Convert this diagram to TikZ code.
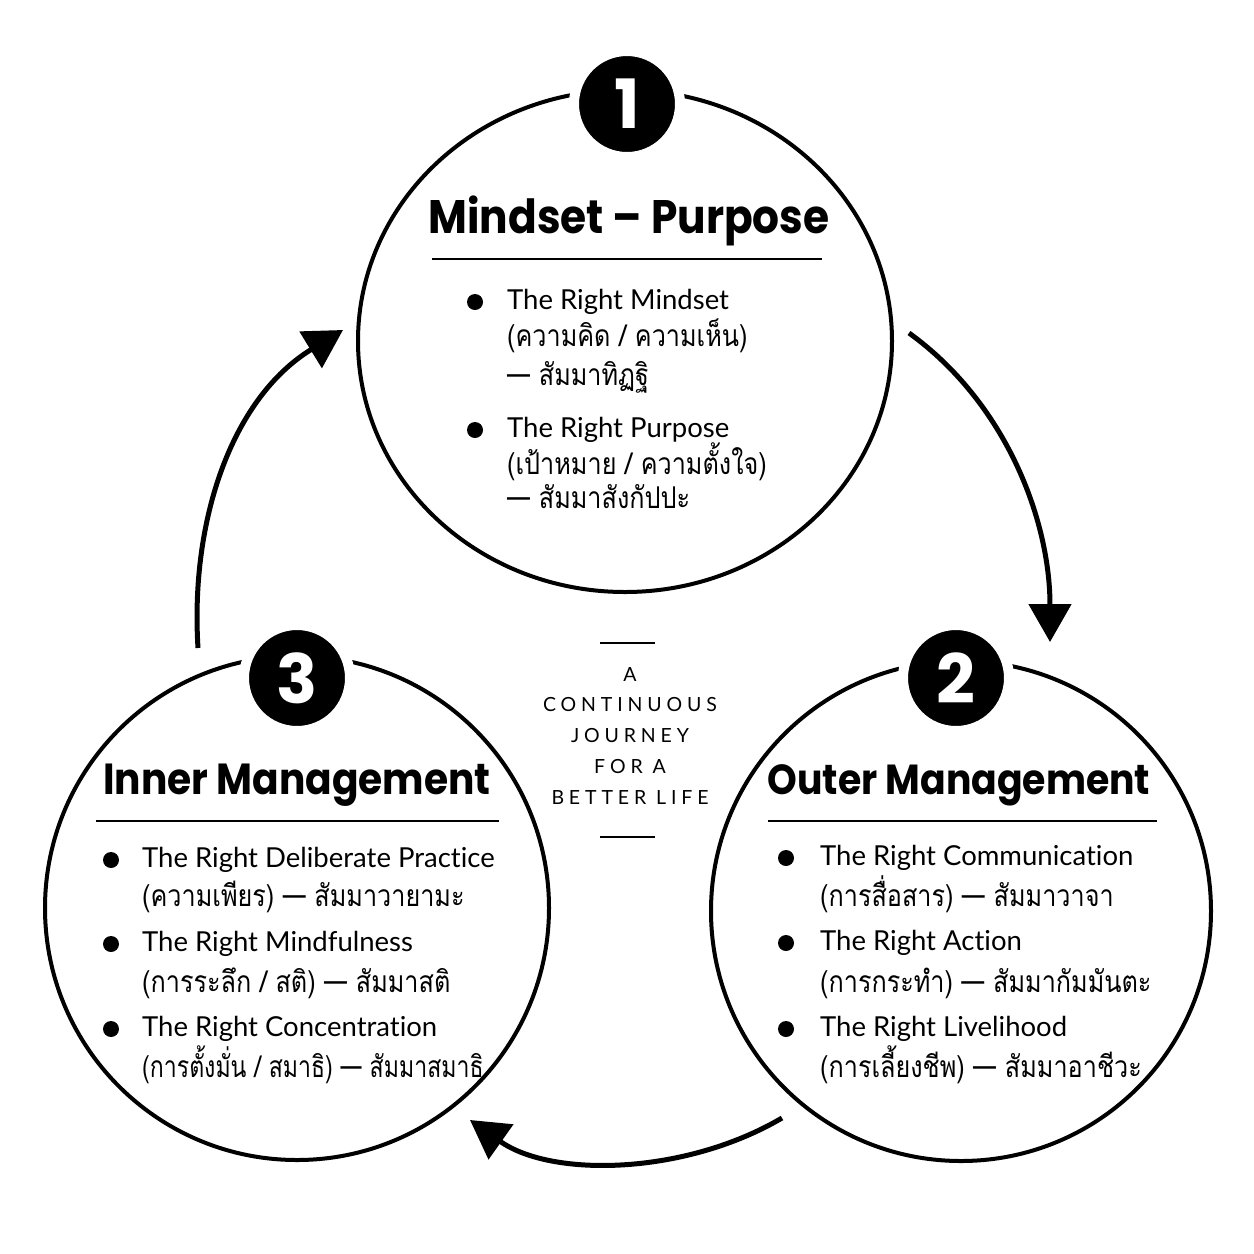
\documentclass[tikz,border=0pt]{standalone}
\usepackage{fontspec}
\usetikzlibrary{arrows.meta,shapes.geometric}
\newfontfamily\titlefont[FakeStretch=0.9]{Poppins}
\newfontfamily\badgefont{Poppins}
\newfontfamily\latfont[Ligatures=NoCommon]{Lato}
\newfontfamily\thfont[Script=Thai,FakeStretch=0.84]{Loma}
\newfontfamily\thnarrow[Script=Thai,FakeStretch=0.77]{Loma}
\newfontfamily\spacedfont[LetterSpace=25]{Lato}
\begin{document}
\begin{tikzpicture}[x=1pt,y=-1pt,
  ring/.style={draw=black, line width=4pt, inner sep=0pt},
  badge/.style={circle, fill=black, draw=white, line width=10pt, minimum size=106pt, inner sep=0pt, text=white, font=\badgefont\bfseries\fontsize{68}{68}\selectfont},
  title/.style={font=\titlefont\bfseries\fontsize{#1}{#1}\selectfont, anchor=base, inner sep=0pt},
  en/.style={font=\latfont\fontsize{27.5}{27.5}\selectfont, anchor=base west, inner sep=0pt},
  th/.style={font=\thfont\fontsize{30}{30}\selectfont, anchor=base west, inner sep=0pt},
  thn/.style={font=\thnarrow\fontsize{30}{30}\selectfont, anchor=base west, inner sep=0pt},
  dot/.style={circle, fill=black, minimum size=16pt, inner sep=0pt},
  rule/.style={line width=2pt},
  flow/.style={line width=5pt, -{Triangle[length=38pt,width=42pt]}},
  mid/.style={font=\spacedfont\fontsize{19.5}{19.5}\selectfont, anchor=base, inner sep=0pt}]
\useasboundingbox (0,0) rectangle (1254,1254);
\fill[white] (0,0) rectangle (1254,1254);

% circles
\node[ring, ellipse, minimum width=534pt, minimum height=502pt] (c1) at (625,341) {};
\node[ring, circle, minimum size=500pt] (c2) at (961,911) {};
\node[ring, circle, minimum size=504pt] (c3) at (297,908) {};

% badges
\node[badge] (b1) at (627,104) {1};
\node[badge] (b2) at (956,678) {2};
\node[badge] (b3) at (297,678) {3};

% titles
\node[title=47] (h1) at (629,233) {Mindset – Purpose};
\node[title=43.5] (h3) at (297,794) {Inner Management};
\node[title=42] (h2) at (959,794) {Outer Management};

% dividers
\coordinate (r1a) at (432,259); \coordinate (r1b) at (822,259);
\coordinate (r3a) at (96,821); \coordinate (r3b) at (499,821);
\coordinate (r2a) at (768,821); \coordinate (r2b) at (1157,821);
\draw[rule] (r1a) -- (r1b);
\draw[rule] (r3a) -- (r3b);
\draw[rule] (r2a) -- (r2b);

% top circle text
\node[dot] (d11) at (475,302) {};
\node[en] (t11) at (507,309) {The Right Mindset};
\node[th] (t12) at (507,346) {(ความคิด / ความเห็น)};
\node[th] (t13) at (507,385) {— สัมมาทิฏฐิ};
\node[dot] (d12) at (475,430) {};
\node[en] (t14) at (507,437) {The Right Purpose};
\node[th] (t15) at (507,474) {(เป้าหมาย / ความตั้งใจ)};
\node[th] (t16) at (507,508) {— สัมมาสังกัปปะ};

% left circle text
\node[dot] (d31) at (111,860) {};
\node[en] (t31) at (142,867) {The Right Deliberate Practice};
\node[th] (t32) at (142,906) {(ความเพียร) — สัมมาวายามะ};
\node[dot] (d32) at (111,944) {};
\node[en] (t33) at (142,951) {The Right Mindfulness};
\node[th] (t34) at (142,992) {(การระลึก / สติ) — สัมมาสติ};
\node[dot] (d33) at (111,1029) {};
\node[en] (t35) at (142,1036) {The Right Concentration};
\node[thn] (t36) at (142,1077) {(การตั้งมั่น / สมาธิ) — สัมมาสมาธิ};

% right circle text
\node[dot] (d21) at (786,858) {};
\node[en] (t21) at (820,865) {The Right Communication};
\node[th] (t22) at (820,906) {(การสื่อสาร) — สัมมาวาจา};
\node[dot] (d22) at (786,943) {};
\node[en] (t23) at (820,950) {The Right Action};
\node[th] (t24) at (820,992) {(การกระทำ) — สัมมากัมมันตะ};
\node[dot] (d23) at (786,1029) {};
\node[en] (t25) at (820,1036) {The Right Livelihood};
\node[th] (t26) at (820,1077) {(การเลี้ยงชีพ) — สัมมาอาชีวะ};

% centre text
\coordinate (m1a) at (600,643); \coordinate (m1b) at (655,643);
\coordinate (m2a) at (600,837); \coordinate (m2b) at (655,837);
\draw[rule] (m1a) -- (m1b);
\draw[rule] (m2a) -- (m2b);
\node[mid] (l1) at (630,681) {A};
\node[mid] (l2) at (630,711) {CONTINUOUS};
\node[mid] (l3) at (630,742) {JOURNEY};
\node[mid] (l4) at (630,773) {FOR A};
\node[mid] (l5) at (630,804) {BETTER LIFE};

% arrows
\coordinate (a1s) at (909,333); \coordinate (a1e) at (1050,642);
\coordinate (a2s) at (782,1118); \coordinate (a2e) at (470,1120);
\coordinate (a3s) at (198,648); \coordinate (a3e) at (343,330);
\draw[flow] (a1s) .. controls (1006,403) and (1050,520) .. (a1e);
\draw[flow] (a2s) .. controls (685,1175) and (552,1178) .. (a2e);
\draw[flow] (a3s) .. controls (190,520) and (232,398) .. (a3e);
\end{tikzpicture}
\end{document}
